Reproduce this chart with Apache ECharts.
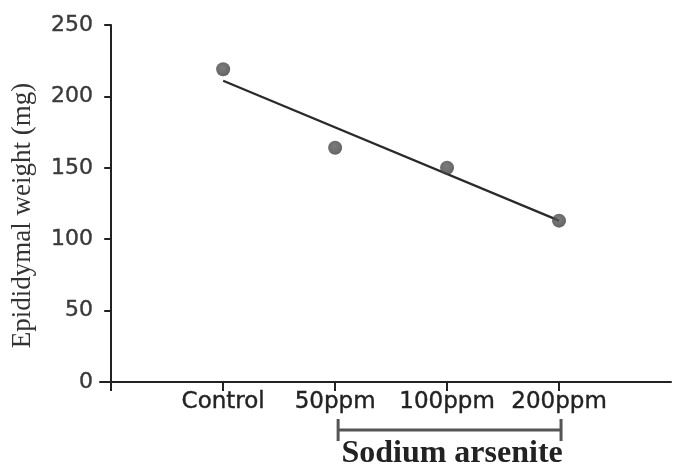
<!DOCTYPE html>
<html>
<head>
<meta charset="utf-8">
<script src="https://cdn.jsdelivr.net/npm/echarts@6/dist/echarts.min.js"></script>
<style>
  html, body { margin: 0; padding: 0; background: #fff; }
  #chart { width: 673px; height: 468px; }
</style>
</head>
<body>
<div id="chart"></div>
<script>
// Group names along the x axis (positions 1..4)
const groups = ['Control', '50ppm', '100ppm', '200ppm'];
// Mean epididymal weight per group (mg)
const weights = [219, 164, 150, 113];
// Trend line end values at Control and 200ppm (mg)
const trendEnds = [211, 113];
// Y axis ticks
const yTicks = [0, 50, 100, 150, 200, 250];
// Bracket label under the arsenite groups
const bracketLabel = 'Sodium arsenite';

const positions = groups.map((_, i) => i + 1);
const points = positions.map((p, i) => [p, weights[i]]);
const trend = [[positions[0], trendEnds[0]], [positions[positions.length - 1], trendEnds[1]]];

const chart = echarts.init(document.getElementById('chart'));

chart.setOption({
  animation: false,
  backgroundColor: '#fff',
  grid: { left: 100, right: 2, top: 25, bottom: 86, containLabel: false, outerBoundsMode: 'none' },
  xAxis: {
    type: 'value',
    min: -0.1,
    max: 5,
    axisLine: { onZero: false, lineStyle: { color: '#222', width: 2 } },
    axisTick: {
      show: true, inside: false, length: 9,
      customValues: [0].concat(positions),
      lineStyle: { color: '#222', width: 2 }
    },
    axisLabel: {
      customValues: positions,
      formatter: v => groups[Math.round(v) - 1] || '',
      fontFamily: 'DejaVu Sans',
      fontSize: 23,
      color: '#222',
      textBorderColor: '#222',
      textBorderWidth: 0.4,
      margin: 9
    },
    splitLine: { show: false }
  },
  yAxis: {
    type: 'value',
    min: yTicks[0],
    max: yTicks[yTicks.length - 1],
    interval: 50,
    name: 'Epididymal weight (mg)',
    nameLocation: 'middle',
    nameGap: 64,
    nameRotate: 90,
    nameTextStyle: {
      fontFamily: 'Liberation Serif',
      fontSize: 27,
      color: '#333',
      padding: [0, 24, 0, 0]
    },
    axisLine: { show: true, lineStyle: { color: '#222', width: 2 } },
    axisTick: { show: true, length: 7, lineStyle: { color: '#222', width: 2 } },
    axisLabel: {
      fontFamily: 'DejaVu Sans',
      fontSize: 22,
      color: '#3a3a3a',
      textBorderColor: '#3a3a3a',
      textBorderWidth: 0.4,
      margin: 7
    },
    splitLine: { show: false }
  },
  series: [
    {
      type: 'line',
      data: trend,
      symbol: 'none',
      lineStyle: { color: '#2a2a2a', width: 2.2 },
      z: 2
    },
    {
      type: 'scatter',
      data: points,
      symbolSize: 14,
      itemStyle: {
        color: {
          type: 'radial', x: 0.45, y: 0.4, r: 0.6,
          colorStops: [
            { offset: 0, color: '#5c5c5c' },
            { offset: 1, color: '#3e3e3e' }
          ]
        }
      },
      z: 3
    }
  ]
});

// Bracket spanning the arsenite groups, with its caption
const left = chart.convertToPixel({ gridIndex: 0 }, [positions[1], 0]);
const right = chart.convertToPixel({ gridIndex: 0 }, [positions[3], 0]);
const barY = left[1] + 48;
const mid = (left[0] + right[0]) / 2;
const stroke = { stroke: '#555', lineWidth: 3 };

chart.setOption({
  graphic: [
    { type: 'line', shape: { x1: left[0] + 3, y1: barY, x2: right[0] + 2, y2: barY }, style: stroke },
    { type: 'line', shape: { x1: left[0] + 3, y1: barY - 11, x2: left[0] + 3, y2: barY + 11 }, style: stroke },
    { type: 'line', shape: { x1: right[0] + 2, y1: barY - 11, x2: right[0] + 2, y2: barY + 11 }, style: stroke },
    {
      type: 'text',
      x: mid + 5, y: barY + 24,
      style: {
        text: bracketLabel,
        fontFamily: 'Liberation Serif',
        fontWeight: 'bold',
        fontSize: 32,
        fill: '#222',
        align: 'center',
        verticalAlign: 'middle'
      }
    }
  ]
});
</script>
</body>
</html>
